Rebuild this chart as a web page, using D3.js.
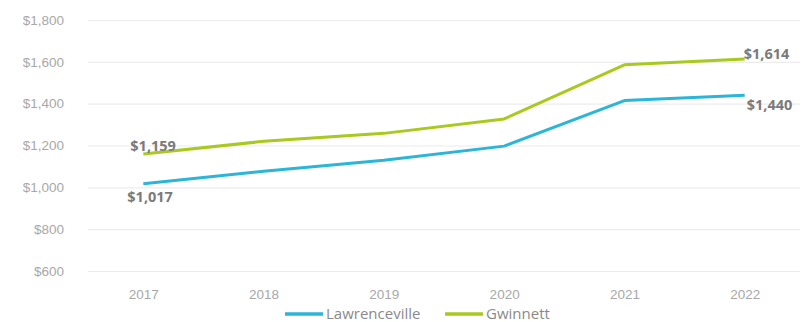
<!DOCTYPE html>
<html>
<head>
<meta charset="utf-8">
<script src="https://cdn.jsdelivr.net/npm/d3@7"></script>
<style>
  body { margin: 0; background: #fff; }
  svg { font-family: "Open Sans", Lato, sans-serif; }
</style>
</head>
<body>
<svg width="808" height="322"></svg>
<script>
const years = ['2017', '2018', '2019', '2020', '2021', '2022']
const lawrenceville = [1017, 1077, 1130, 1197, 1415, 1440]
const gwinnett = [1159, 1220, 1258, 1327, 1586, 1614]
const yTicks = [600, 800, 1000, 1200, 1400, 1600, 1800]
const seriesNames = ['Lawrenceville', 'Gwinnett']
const colors = ['#2bb5d8', '#a9c91e']

const svg = d3.select('svg')
const x = d3.scalePoint().domain(years).range([88, 800]).padding(0.46)
const y = d3.scaleLinear().domain([600, 1800]).range([271, 20])
const money = d3.format('$,')

// gridlines + y labels
const yAxis = d3.axisLeft(y).tickValues(yTicks).tickSize(-712).tickFormat(money).tickPadding(24)
svg.append('g')
    .attr('transform', 'translate(88,0)')
    .call(yAxis)
    .call(g => g.select('.domain').remove())
    .call(g => g.selectAll('.tick line').attr('stroke', '#ececec').attr('stroke-width', 1.2))
    .call(g => g.selectAll('.tick text').attr('fill', '#a8a8a8').attr('font-size', 13.5))

const xAxis = d3.axisBottom(x).tickSize(0).tickPadding(0)
svg.append('g')
    .attr('transform', 'translate(0,289)')
    .call(xAxis)
    .call(g => g.select('.domain').remove())
    .call(g => g.selectAll('.tick text').attr('fill', '#a8a8a8').attr('font-size', 13.5))

const line = d3.line().x((d, i) => x(years[i])).y(d => y(d))
const series = [lawrenceville, gwinnett]
svg.selectAll('path.series')
    .data(series)
    .enter()
    .append('path')
    .attr('class', 'series')
    .attr('fill', 'none')
    .attr('stroke', (d, i) => colors[i])
    .attr('stroke-width', 3)
    .attr('stroke-linejoin', 'round')
    .attr('d', line)

// end-point labels
const labels = [
    { v: lawrenceville[0], i: 0, dx: -16, dy: 18 },
    { v: gwinnett[0], i: 0, dx: -13, dy: -3 },
    { v: gwinnett[5], i: 5, dx: -1, dy: 0 },
    { v: lawrenceville[5], i: 5, dx: 2, dy: 15 }
]
svg.selectAll('text.lbl')
    .data(labels)
    .enter()
    .append('text')
    .attr('class', 'lbl')
    .attr('x', d => x(years[d.i]) + d.dx)
    .attr('y', d => y(d.v) + d.dy)
    .attr('fill', '#7a7a7a')
    .attr('font-size', 14.5)
    .attr('font-weight', 'bold')
    .text(d => money(d.v))

// legend
const legend = svg.append('g').attr('transform', 'translate(285,314)')
const lx = [0, 160]
seriesNames.forEach((name, i) => {
    const g = legend.append('g').attr('transform', `translate(${lx[i]},0)`)
    g.append('line').attr('x1', 0).attr('x2', 38).attr('y1', 0).attr('y2', 0)
        .attr('stroke', colors[i]).attr('stroke-width', 3.5)
    g.append('text').attr('x', 41).attr('y', 5).attr('fill', '#8a8a8a')
        .attr('font-size', 15).text(name)
})
</script>
</body>
</html>
